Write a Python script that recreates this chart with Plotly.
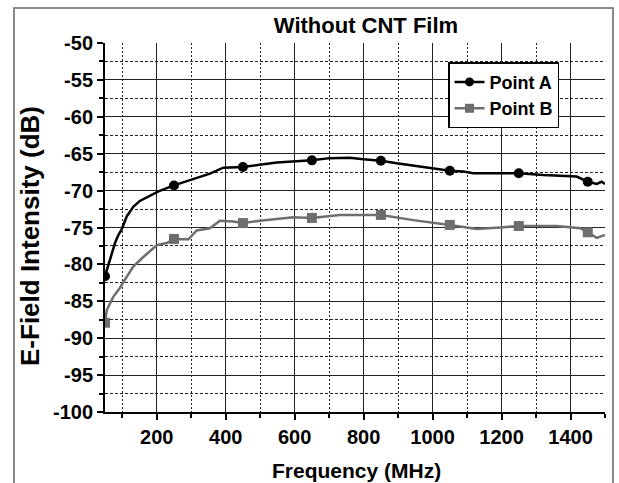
import plotly.graph_objects as go

freq_a = [50, 55, 64, 79, 89, 98, 113, 132, 151, 180, 205, 250, 287, 325, 354, 393,
          450, 548, 650, 702, 731, 760, 799, 850, 896, 963, 1050, 1089, 1118, 1186,
          1250, 1321, 1418, 1450, 1476, 1490, 1500]
val_a = [-81.6, -80.8, -79.4, -77.1, -76.0, -75.3, -73.5, -72.2, -71.4, -70.7, -70.1,
         -69.3, -68.7, -68.1, -67.7, -66.9, -66.8, -66.2, -65.9, -65.6, -65.55, -65.55,
         -65.75, -65.95, -66.3, -66.75, -67.3, -67.4, -67.65, -67.65, -67.65, -67.9,
         -68.1, -68.8, -69.1, -68.8, -69.1]

freq_b = [50, 55, 74, 93, 113, 132, 161, 200, 229, 250, 292, 316, 354, 383, 422, 450,
          499, 596, 650, 731, 850, 944, 1050, 1128, 1196, 1250, 1360, 1428, 1450, 1476, 1500]
val_b = [-87.9, -86.2, -84.4, -83.2, -81.7, -80.3, -79.0, -77.4, -77.1, -76.55, -76.6,
         -75.4, -75.1, -74.1, -74.2, -74.4, -74.1, -73.6, -73.7, -73.3, -73.3, -74.0,
         -74.65, -75.2, -75.0, -74.8, -74.8, -75.1, -75.65, -76.4, -76.0]

marker_freq = [50, 250, 450, 650, 850, 1050, 1250, 1450]
mark_a = [val_a[freq_a.index(f)] for f in marker_freq]
mark_b = [val_b[freq_b.index(f)] for f in marker_freq]

x_ticks = [200, 400, 600, 800, 1000, 1200, 1400]
y_ticks = list(range(-100, -49, 5))

col_a = "#000000"
col_b = "#6e6e6e"
FONT = "Liberation Sans, Arial, sans-serif"

fig = go.Figure()
fig.add_trace(go.Scatter(x=freq_a, y=val_a, mode="lines", line=dict(color=col_a, width=2.5),
                         showlegend=False))
fig.add_trace(go.Scatter(x=marker_freq, y=mark_a, mode="markers",
                         marker=dict(color=col_a, size=10, symbol="circle"), showlegend=False))
fig.add_trace(go.Scatter(x=freq_b, y=val_b, mode="lines", line=dict(color=col_b, width=2.5),
                         showlegend=False))
fig.add_trace(go.Scatter(x=marker_freq, y=mark_b, mode="markers",
                         marker=dict(color=col_b, size=10, symbol="square"), showlegend=False))
# legend entries
fig.add_trace(go.Scatter(x=[None], y=[None], mode="lines+markers", name="<b>Point A</b>",
                         line=dict(color=col_a, width=2.5),
                         marker=dict(color=col_a, size=9, symbol="circle")))
fig.add_trace(go.Scatter(x=[None], y=[None], mode="lines+markers", name="<b>Point B</b>",
                         line=dict(color=col_b, width=2.5),
                         marker=dict(color=col_b, size=9, symbol="square")))

fig.update_layout(
    width=619, height=483,
    margin=dict(l=105, r=14, t=43, b=71),
    paper_bgcolor="white", plot_bgcolor="white",
    font=dict(family=FONT, color="black"),
    title=dict(text="<b>Without CNT Film</b>", x=366 / 619, xanchor="center",
               y=1 - 25 / 483, yanchor="middle", font=dict(size=22, family=FONT)),
    legend=dict(x=0.686, y=0.948, xanchor="left", yanchor="top",
                bgcolor="white", bordercolor="black", borderwidth=1.5,
                font=dict(size=18, family=FONT), tracegroupgap=0),
    showlegend=True,
)

fig.update_xaxes(
    range=[50, 1500], tickmode="array", tickvals=x_ticks,
    ticktext=["<b>%d</b>" % v for v in x_ticks],
    tickfont=dict(size=20, family=FONT),
    showline=True, linecolor="black", linewidth=2,
    ticks="outside", ticklen=6, tickwidth=1.5, tickcolor="black",
    showgrid=True, gridcolor="#222222", gridwidth=1,
    minor=dict(dtick=100, tick0=100, showgrid=True, gridcolor="#222222", gridwidth=1,
               griddash="2px,2px", ticks="outside", ticklen=4, tickcolor="black"),
    zeroline=False,
)
fig.update_yaxes(
    range=[-100, -50], tickmode="array", tickvals=y_ticks,
    ticktext=["<b>%d</b>" % v for v in y_ticks],
    tickfont=dict(size=20, family=FONT),
    showline=True, linecolor="black", linewidth=2,
    ticks="outside", ticklen=6, tickwidth=1.5, tickcolor="black",
    showgrid=True, gridcolor="#222222", gridwidth=1,
    minor=dict(dtick=2.5, tick0=-97.5, showgrid=True, gridcolor="#222222", gridwidth=1,
               griddash="3px,2px", ticks="outside", ticklen=4, tickcolor="black"),
    zeroline=False,
)

# axis titles
fig.add_annotation(text="<b>Frequency (MHz)</b>", xref="paper", yref="paper",
                   x=(356 - 105) / 500, y=(412 - 470) / 369, xanchor="center", yanchor="middle",
                   showarrow=False, font=dict(size=21, family=FONT))
fig.add_annotation(text="<b>E-Field Intensity (dB)</b>", xref="paper", yref="paper",
                   x=(30 - 105) / 500, y=(412 - 236) / 369, xanchor="center", yanchor="middle",
                   textangle=-90, showarrow=False, font=dict(size=26, family=FONT))

# outer gray frame
fig.add_shape(type="rect", xref="paper", yref="paper",
              x0=(14 - 105) / 500, x1=(613 - 105) / 500,
              y0=(412 - 495) / 369, y1=(412 - 8) / 369,
              line=dict(color="#8a8a8a", width=2), layer="below")

fig.write_html("out.html")
